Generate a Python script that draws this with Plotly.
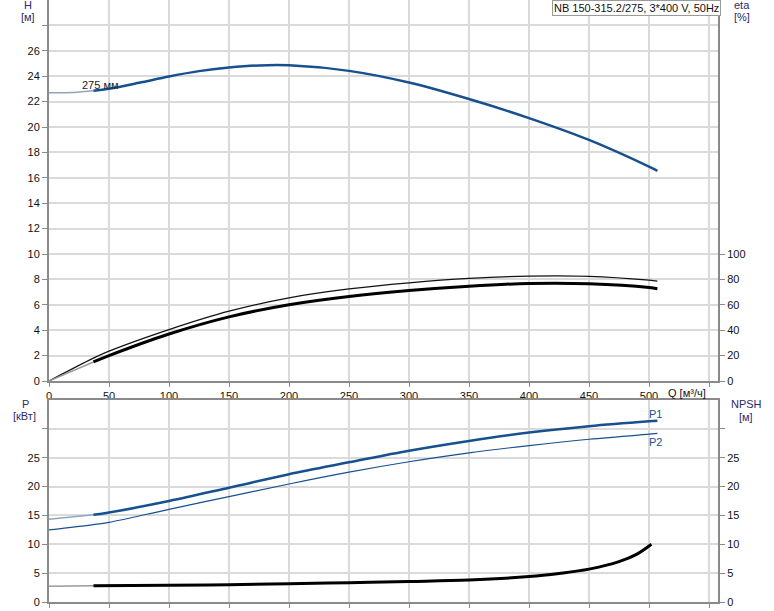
import plotly.graph_objects as go

# ---------------- data ----------------
Q_start = [0, 20, 37]
H_start = [22.7, 22.72, 22.85]
Q_H = [37, 50, 75, 100, 125, 150, 175, 200, 250, 300, 350, 400, 450, 500, 507]
H_vals = [22.85, 23.02, 23.48, 23.98, 24.4, 24.68, 24.85, 24.86, 24.42, 23.5, 22.2, 20.7, 18.98, 16.88, 16.55]

Q_eta = [0, 37, 50, 100, 150, 200, 250, 300, 350, 400, 450, 500, 507]
eta_upper = [0, 18, 23.5, 40.5, 55, 65.5, 72.5, 77.3, 80.8, 82.6, 82.4, 79.4, 78.7]
Q_eta_low_start = [0, 37]
eta_lower_start = [0, 15]
Q_eta_low = [37, 50, 100, 150, 200, 250, 300, 350, 400, 450, 500, 507]
eta_lower = [15, 20, 37, 50.5, 60, 66.5, 71.2, 74.6, 76.8, 76.6, 73.6, 72.6]

Q_P1_start = [0, 37]
P1_start = [14.35, 15.1]
Q_P1 = [37, 50, 100, 150, 200, 250, 300, 350, 400, 450, 500, 507]
P1_vals = [15.1, 15.5, 17.5, 19.8, 22.15, 24.2, 26.2, 27.9, 29.35, 30.45, 31.3, 31.4]

Q_P2 = [0, 37, 50, 100, 150, 200, 250, 300, 350, 400, 450, 500, 507]
P2_vals = [12.48, 13.4, 13.8, 16.06, 18.25, 20.45, 22.5, 24.3, 25.85, 27.1, 28.2, 29.08, 29.2]

Q_N_start = [0, 37]
N_start = [2.75, 2.8]
Q_N = [37, 100, 150, 200, 250, 300, 350, 400, 425, 450, 475, 490, 502]
NPSH_vals = [2.8, 2.9, 3.0, 3.15, 3.35, 3.55, 3.8, 4.4, 4.95, 5.7, 7.0, 8.3, 10.0]

Q_ticks = [0, 50, 100, 150, 200, 250, 300, 350, 400, 450, 500, 550]
Q_ticktext = ["0", "50", "100", "150", "200", "250", "300", "350", "400", "450", "500", ""]
H_ticks = list(range(0, 30, 2))
H_ticktext = [str(v) for v in range(0, 28, 2)] + [""]
eta_ticks = [0, 20, 40, 60, 80, 100]
P_ticks = [0, 5, 10, 15, 20, 25, 30]
P_ticktext = ["0", "5", "10", "15", "20", "25", ""]

title_text = "NB 150-315.2/275, 3*400 V, 50Hz"

# ---------------- styling ----------------
BLUE = "#17508f"
LIGHTBLUE = "#8fa6c2"
GREY = "#9a9a9a"
GRID = "#dadada"
AX = "#8a8a8a"
LABEL = "#2e2a66"
FONT = "Liberation Sans, Arial, sans-serif"

W, H = 774, 611
ML, MR, MT, MB = 49, 56, 0, 9
PW, PH = W - ML - MR, H - MT - MB


def px(x):
    return (x - ML) / PW


def py(y):
    return (H - MB - y) / PH


fig = go.Figure()

# top plot
fig.add_trace(go.Scatter(x=Q_start, y=H_start, mode="lines", line=dict(color=LIGHTBLUE, width=1.5, shape="spline"), xaxis="x", yaxis="y", hoverinfo="skip"))
fig.add_trace(go.Scatter(x=Q_H, y=H_vals, mode="lines", line=dict(color=BLUE, width=2.5, shape="spline"), xaxis="x", yaxis="y"))
fig.add_trace(go.Scatter(x=Q_eta, y=eta_upper, mode="lines", line=dict(color="#111111", width=1.2, shape="spline"), xaxis="x", yaxis="y2"))
fig.add_trace(go.Scatter(x=Q_eta_low_start, y=eta_lower_start, mode="lines", line=dict(color=GREY, width=1.5), xaxis="x", yaxis="y2", hoverinfo="skip"))
fig.add_trace(go.Scatter(x=Q_eta_low, y=eta_lower, mode="lines", line=dict(color="#000000", width=3, shape="spline"), xaxis="x", yaxis="y2"))

# bottom plot
fig.add_trace(go.Scatter(x=Q_P1_start, y=P1_start, mode="lines", line=dict(color=LIGHTBLUE, width=1.5), xaxis="x2", yaxis="y3", hoverinfo="skip"))
fig.add_trace(go.Scatter(x=Q_P1, y=P1_vals, mode="lines", line=dict(color=BLUE, width=2.5, shape="spline"), xaxis="x2", yaxis="y3"))
fig.add_trace(go.Scatter(x=Q_P2, y=P2_vals, mode="lines", line=dict(color=BLUE, width=1.2, shape="spline"), xaxis="x2", yaxis="y3"))
fig.add_trace(go.Scatter(x=Q_N_start, y=N_start, mode="lines", line=dict(color=GREY, width=1.5), xaxis="x2", yaxis="y4", hoverinfo="skip"))
fig.add_trace(go.Scatter(x=Q_N, y=NPSH_vals, mode="lines", line=dict(color="#000000", width=3, shape="spline"), xaxis="x2", yaxis="y4"))

tickfont = dict(family=FONT, size=11, color="#111111")
common_x = dict(range=[0, 557.5], tickvals=Q_ticks, showgrid=True, gridcolor=GRID, gridwidth=1.5,
                zeroline=False, showline=True, linecolor=AX, linewidth=2, ticks="outside",
                ticklen=4, tickcolor=AX, tickfont=tickfont, automargin=False)
common_y = dict(showgrid=True, gridcolor=GRID, gridwidth=1.5, zeroline=False, showline=True,
                linecolor=AX, linewidth=2, ticks="outside", ticklen=5, tickcolor=AX, tickfont=tickfont,
                automargin=False)

top_dom = [py(381), 1]
bot_dom = [0, py(400)]

fig.update_layout(
    width=W, height=H,
    margin=dict(l=ML, r=MR, t=MT, b=MB, autoexpand=False),
    paper_bgcolor="white", plot_bgcolor="white",
    showlegend=False,
    font=dict(family=FONT, size=11, color="#111111"),
    xaxis=dict(common_x, domain=[0, 1], anchor="y", ticktext=Q_ticktext),
    yaxis=dict(common_y, domain=top_dom, anchor="x", range=[0, 30], tickvals=H_ticks, ticktext=H_ticktext),
    yaxis2=dict(common_y, overlaying="y", side="right", anchor="x", range=[0, 300], tickvals=eta_ticks, showgrid=False),
    xaxis2=dict(common_x, domain=[0, 1], anchor="y3", showticklabels=False, mirror=True),
    yaxis3=dict(common_y, domain=bot_dom, anchor="x2", range=[0, 35], tickvals=P_ticks, ticktext=P_ticktext),
    yaxis4=dict(common_y, overlaying="y3", side="right", anchor="x2", range=[0, 35], tickvals=P_ticks, ticktext=P_ticktext, showgrid=False),
)

ann_font = dict(family=FONT, size=11, color=LABEL)
anns = [
    ("H", 28, 5), ("[м]", 28, 17),
    ("eta", 742, 5), ("[%]", 742, 17),
    ("P", 25, 404), ("[кВт]", 24, 416),
    ("NPSH", 746, 404), ("[м]", 746, 417),
]
for t, x, y in anns:
    fig.add_annotation(text=t, x=px(x), y=py(y), xref="paper", yref="paper", showarrow=False,
                       font=ann_font, xanchor="center", yanchor="middle")

fig.add_annotation(text="Q [м³/ч]", x=px(687), y=py(393), xref="paper", yref="paper", showarrow=False,
                   font=dict(family=FONT, size=11, color="#111111"), xanchor="center", yanchor="middle")

fig.add_annotation(text=title_text, x=px(636), y=py(8), xref="paper", yref="paper", showarrow=False,
                   font=dict(family=FONT, size=11, color="#111111"), xanchor="center", yanchor="middle",
                   bgcolor="white", bordercolor="#9a9a9a", borderwidth=1, borderpad=1)

fig.add_annotation(text="275 мм", x=43.3, y=23.3, xref="x", yref="y", showarrow=False,
                   font=dict(family=FONT, size=11, color="#222222"), xanchor="center", yanchor="middle")
fig.add_annotation(text="P1", x=505, y=32.6, xref="x2", yref="y3", showarrow=False,
                   font=dict(family=FONT, size=11, color=BLUE), xanchor="center", yanchor="middle")
fig.add_annotation(text="P2", x=505, y=27.7, xref="x2", yref="y3", showarrow=False,
                   font=dict(family=FONT, size=11, color=BLUE), xanchor="center", yanchor="middle")

fig.write_html("out.html", config={"displayModeBar": False},
               post_script="document.body.style.margin='0';document.body.style.padding='0';")
